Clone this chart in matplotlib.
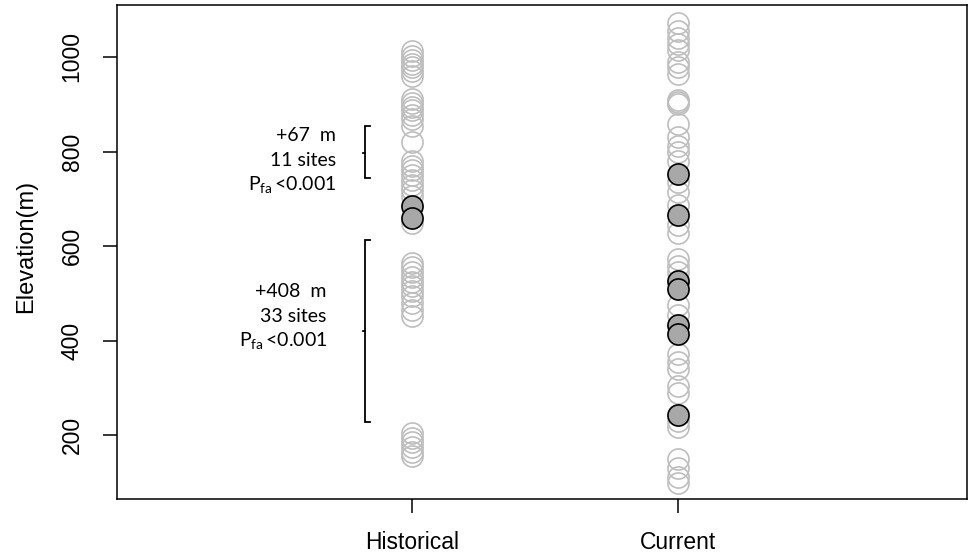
import matplotlib
matplotlib.use("Agg")
import matplotlib.pyplot as plt
import numpy as np

plt.rcParams['font.family'] = ['Liberation Sans', 'DejaVu Sans']
plt.rcParams['mathtext.fontset'] = 'custom'
plt.rcParams['mathtext.rm'] = 'Lato'
plt.rcParams['mathtext.it'] = 'Lato:italic'

groups = ["Historical", "Current"]

historical_open = [1012, 1002, 993, 985, 978, 970, 960,
                   912, 903, 895, 888, 878, 868, 855,
                   820,
                   780, 770, 762, 750, 740, 730, 718, 705,
                   648,
                   565, 555, 545, 535, 525, 515, 505, 495, 480, 465, 452,
                   205, 195, 185, 175, 165, 155]
historical_filled = [685, 660]

current_open = [1072, 1055, 1040, 1028, 1015, 990, 978, 965,
                 910, 905, 900,
                 858, 830, 812, 798, 780,
                 735, 715,
                 686, 645, 628,
                 572, 558, 545,
                 475, 455,
                 372, 355, 340, 305, 290,
                 230, 218,
                 150, 130, 112, 98]
current_filled = [752, 665, 526, 509, 433, 413, 242]

yticks = [200, 400, 600, 800, 1000]

fig = plt.figure(figsize=(9.72, 5.58), dpi=100)
ax = fig.add_axes([117/972, 1 - 499/558, 850/972, 494/558])

open_sets = [historical_open, current_open]
filled_sets = [historical_filled, current_filled]
for i, (op, fi) in enumerate(zip(open_sets, filled_sets)):
    xpos = i + 1
    ax.plot([xpos] * len(op), op, linestyle='none', marker='o', ms=15.2,
            mfc='none', mec='#BEBEBE', mew=1.2, zorder=2)
    ax.plot([xpos] * len(fi), fi, linestyle='none', marker='o', ms=15.2,
            mfc='#A8A8A8', mec='black', mew=1.2, zorder=3)

ax.set_xlim(-0.11, 3.086)
ax.set_ylim(65, 1110)

ax.set_xticks([1, 2])
ax.set_xticklabels(groups, fontsize=16.5)
ax.set_yticks(yticks)
ax.set_yticklabels([str(t) for t in yticks], fontsize=16.5, rotation=90, va='center')
ax.tick_params(axis='both', direction='out', length=10, width=1.1)
ax.tick_params(axis='y', pad=14)
ax.tick_params(axis='x', pad=13)
for s in ax.spines.values():
    s.set_linewidth(1.1)

fig.text(26/972, 1 - 246/558, "Elevation(m)", rotation=90, ha='center', va='center', fontsize=17)

# brackets
def bracket(ax, x, y0, y1, ym):
    ax.plot([x + 0.019, x, x, x + 0.019], [y0, y0, y1, y1], color='black', lw=1.3,
            solid_joinstyle='miter', zorder=4)
    ax.plot([x - 0.008, x], [ym, ym], color='black', lw=1.3, zorder=4)

bracket(ax, 0.822, 854, 744, 797)
bracket(ax, 0.822, 613, 228, 420)

afont = dict(fontsize=14, family='Lato', ha='right', va='center')
ax.text(0.713, 833, "+67  m", **afont)
ax.text(0.713, 782, "11 sites", **afont)
ax.text(0.713, 731, r"P$_{\mathrm{fa}}\,$<0.001", **afont)
ax.text(0.679, 503, "+408  m", **afont)
ax.text(0.679, 452, "33 sites", **afont)
ax.text(0.679, 401, r"P$_{\mathrm{fa}}\,$<0.001", **afont)

fig.savefig("out.png", dpi=100)
